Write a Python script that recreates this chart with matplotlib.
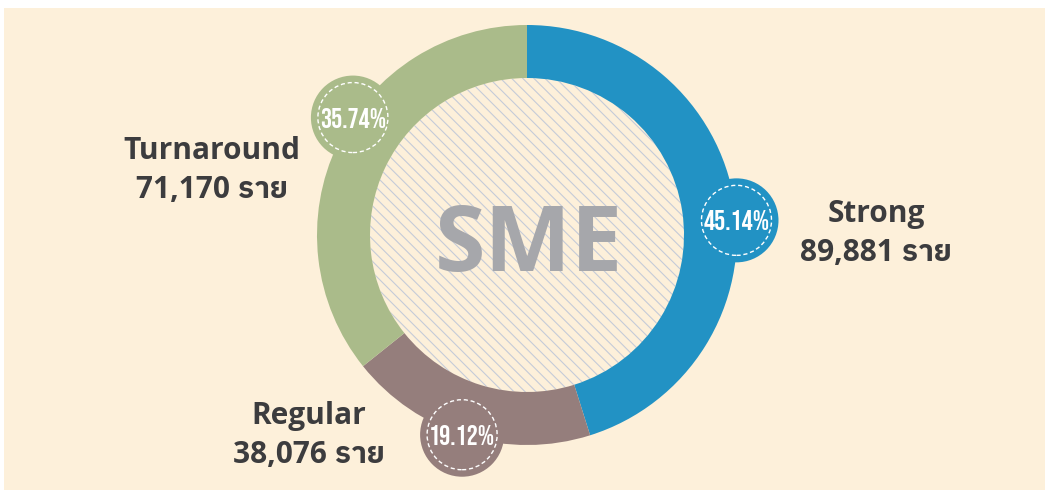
import matplotlib
matplotlib.use("Agg")
import numpy as np
import matplotlib.pyplot as plt
from matplotlib.patches import Circle, Rectangle

# data
segments = ['Strong', 'Regular', 'Turnaround']
shares = [45.14, 19.12, 35.74]
counts = ['89,881', '38,076', '71,170']
colors = ['#2292c4', '#957e7c', '#aabb8a']

# layout (pixel-ish coordinates, y measured from bottom)
W, H = 1049, 490
cx, cy = 527, 255
r_out, ring = 210, 53
badge_angles = [4, -108, 146]
label_pos = [(876, 257), (309, 55), (212, 320)]

plt.rcParams['hatch.linewidth'] = 0.8
plt.rcParams['hatch.color'] = '#c5cbd8'

label_font = ['Open Sans', 'IBM Plex Sans Thai', 'Noto Sans Thai']

fig = plt.figure(figsize=(W / 100, H / 100), dpi=100)
ax = fig.add_axes([0, 0, 1, 1])

ax.add_patch(Rectangle((4, 0), W - 8, H - 8, facecolor='#fdf0da', edgecolor='none', zorder=0))

# inner hatched disk
ax.add_patch(Circle((cx, cy), r_out - ring, facecolor='#fdf0da', edgecolor='#c5cbd8',
                    hatch='\\\\\\', linewidth=0, zorder=1))

ax.pie(shares, colors=colors, startangle=90, counterclock=False,
       radius=r_out, center=(cx, cy), frame=True,
       wedgeprops=dict(width=ring, linewidth=0, zorder=2))
ax.set_xlim(0, W)
ax.set_ylim(0, H)
ax.set_aspect('equal')
ax.axis('off')

ax.text(cx + 2, cy - 12, 'SME', ha='center', va='center', fontsize=66,
        fontfamily='Open Sans', fontweight='bold', color='#a6a7ab', zorder=3)

for seg, share, cnt, col, ang, (lx, ly) in zip(segments, shares, counts, colors,
                                                 badge_angles, label_pos):
    a = np.deg2rad(ang)
    bx = cx + r_out * np.cos(a)
    by = cy + r_out * np.sin(a)
    ax.add_patch(Circle((bx, by), 42, facecolor=col, edgecolor='none', zorder=4))
    ax.add_patch(Circle((bx, by), 35, facecolor='none', edgecolor='white',
                        linestyle=(0, (3, 2)), linewidth=1.0, zorder=5))
    ax.text(bx, by, f'{share:.2f}%', ha='center', va='center', fontsize=20,
            fontfamily=['Bebas Neue', 'Barlow Condensed', 'DejaVu Sans'],
            color='white', zorder=6)
    ax.text(lx, ly + 19, seg, ha='center', va='center', fontsize=21.5,
            fontfamily=label_font, fontweight='bold', color='#3c3c3e', zorder=6)
    ax.text(lx, ly - 20, f'{cnt} ราย', ha='center', va='center', fontsize=21.5,
            fontfamily=label_font, fontweight='bold', color='#3c3c3e', zorder=6)

fig.savefig('out.png', dpi=100, facecolor='white')
